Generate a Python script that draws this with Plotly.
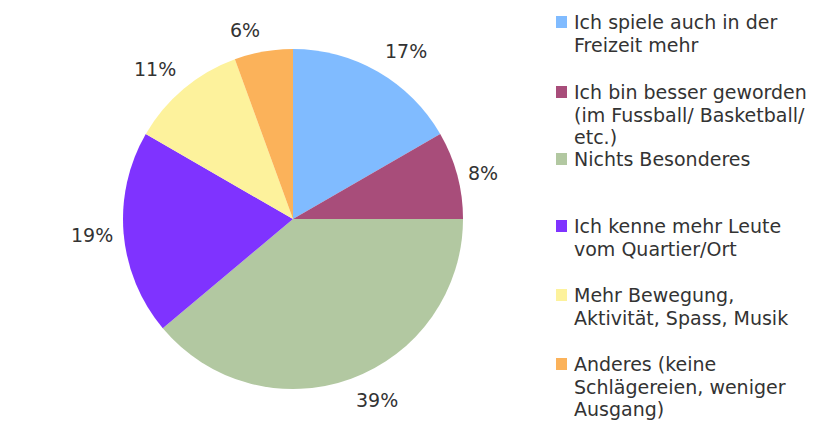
import math
import plotly.graph_objects as go

labels = [
    'Ich spiele auch in der<br>Freizeit mehr',
    'Ich bin besser geworden<br>(im Fussball/ Basketball/<br>etc.)',
    'Nichts Besonderes',
    'Ich kenne mehr Leute<br>vom Quartier/Ort',
    'Mehr Bewegung,<br>Aktivität, Spass, Musik',
    'Anderes (keine<br>Schlägereien, weniger<br>Ausgang)',
]
# answer counts (36 replies) -> 17%, 8%, 39%, 19%, 11%, 6%
counts = [6, 3, 14, 7, 4, 2]
colors = ['#80bbff', '#a84d7a', '#b2c8a1', '#7f33ff', '#fdf29c', '#fbb25a']

# page body has an 8px margin, so the figure is drawn a bit smaller and shifted
OFF = 8
W, H = 822 - OFF, 421 - OFF
CX, CY, R = 293, 219, 170
FONT = 'DejaVu Sans'


def px(x):
    return (x - OFF) / W


def py(y):
    return 1 - (y - OFF) / H


fig = go.Figure(go.Pie(
    labels=labels, values=counts, sort=False, direction='clockwise', rotation=0,
    marker=dict(colors=colors, line=dict(width=0)),
    textinfo='none', hoverinfo='label+percent', showlegend=False,
    domain=dict(x=[px(CX - R), px(CX + R)], y=[py(CY + R), py(CY - R)]),
))

# percentage labels just outside the pie, anchored at each slice's mid angle
total = sum(counts)
cum = 0
for v in counts:
    mid = (cum + v / 2) / total * 2 * math.pi
    cum += v
    s, c = math.sin(mid), math.cos(mid)
    xa = 'left' if s > 0.15 else ('right' if s < -0.15 else 'center')
    ya = 'bottom' if c > 0.3 else ('top' if c < -0.3 else 'middle')
    fig.add_annotation(x=px(CX + (R + 9) * s), y=py(CY - (R + 9) * c), xref='paper', yref='paper',
                       showarrow=False, xanchor=xa, yanchor=ya,
                       text=f'{round(v / total * 100)}%', font=dict(family=FONT, size=19, color='#333333'))

# hand-made legend, one annotation per text line
item_tops = [22, 92, 159, 226, 295, 364]
LINE = 22.5
for lab, col, top in zip(labels, colors, item_tops):
    fig.add_shape(type='rect', xref='paper', yref='paper',
                  x0=px(556), x1=px(567), y0=py(top - 6), y1=py(top + 6),
                  fillcolor=col, line=dict(width=0))
    for i, line in enumerate(lab.split('<br>')):
        fig.add_annotation(x=px(572), y=py(top + i * LINE), xref='paper', yref='paper', showarrow=False,
                           xanchor='left', yanchor='middle', align='left', text=line,
                           font=dict(family=FONT, size=19, color='#333333'))

fig.update_layout(width=W, height=H, margin=dict(l=0, r=0, t=0, b=0),
                  paper_bgcolor='white', plot_bgcolor='white')
fig.write_html('out.html')
